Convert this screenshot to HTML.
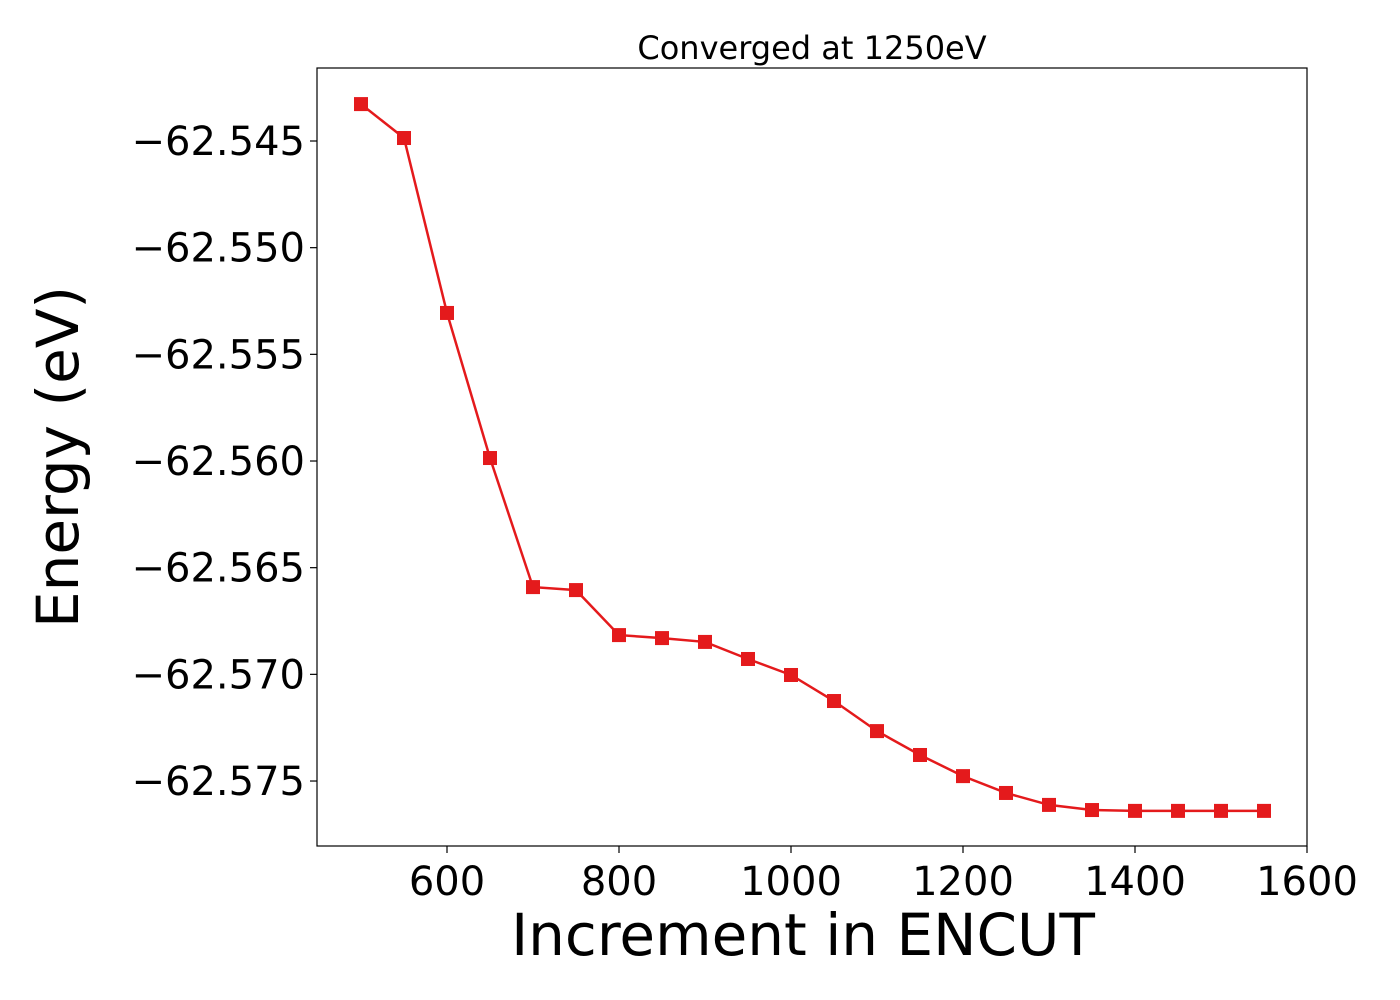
<!DOCTYPE html>
<html><head><meta charset="utf-8"><style>
html,body{margin:0;padding:0;background:#fff;}
svg{display:block;font-family:"DejaVu Sans","Liberation Sans",sans-serif;}
</style></head><body>
<svg id="chart" width="1400" height="1000" viewBox="0 0 1400 1000">
<rect x="0" y="0" width="1400" height="1000" fill="#fff"/>
<text x="812" y="59" font-size="32" text-anchor="middle" fill="#000">Converged at 1250eV</text>
<g id="xticks"></g>
<g id="yticks"></g>
<g id="series"></g>
<rect x="317" y="68" width="990" height="778" fill="none" stroke="#000" stroke-width="1.2"/>
<text x="803" y="955" font-size="58" text-anchor="middle" fill="#000">Increment in ENCUT</text>
<text transform="translate(78,457) rotate(-90)" font-size="58" text-anchor="middle" fill="#000">Energy (eV)</text>
</svg>
<script>
const encut = [500,550,600,650,700,750,800,850,900,950,1000,1050,1100,1150,1200,1250,1300,1350,1400,1450,1500,1550];
const energy = [-62.54327,-62.54486,-62.55306,-62.55986,-62.56591,-62.56605,-62.56816,-62.5683,-62.56848,-62.56928,-62.57003,-62.57125,-62.57266,-62.57378,-62.57477,-62.57556,-62.57612,-62.57636,-62.5764,-62.5764,-62.5764,-62.5764];
const xTickValues = [600,800,1000,1200,1400,1600];
const yTickValues = [-62.545,-62.550,-62.555,-62.560,-62.565,-62.570,-62.575];
const yTickLabels = ["\u221262.545","\u221262.550","\u221262.555","\u221262.560","\u221262.565","\u221262.570","\u221262.575"];

const NS = "http://www.w3.org/2000/svg";
function xs(v){ return 447 + (v-600)*(172/200); }
function ys(v){ return 141 + (-62.545 - v)/0.005*106.67; }

const xg = document.getElementById('xticks');
xTickValues.forEach(v=>{
  const l=document.createElementNS(NS,'line');
  l.setAttribute('x1',xs(v));l.setAttribute('x2',xs(v));l.setAttribute('y1',846);l.setAttribute('y2',853);
  l.setAttribute('stroke','#000');l.setAttribute('stroke-width','1.2');
  
  
  xg.appendChild(l);
  const t=document.createElementNS(NS,'text');
  t.setAttribute('x',xs(v));t.setAttribute('y',895);t.setAttribute('font-size','40');t.setAttribute('text-anchor','middle');
  t.textContent=v;
  
  
  xg.appendChild(t);
});
const yg = document.getElementById('yticks');
yTickValues.forEach((v,i)=>{
  const l=document.createElementNS(NS,'line');
  l.setAttribute('x1',310);l.setAttribute('x2',317);l.setAttribute('y1',ys(v));l.setAttribute('y2',ys(v));
  l.setAttribute('stroke','#000');l.setAttribute('stroke-width','1.2');
  
  
  yg.appendChild(l);
  const t=document.createElementNS(NS,'text');
  t.setAttribute('x',305);t.setAttribute('y',ys(v)+14);t.setAttribute('font-size','40');t.setAttribute('text-anchor','end');
  t.textContent=yTickLabels[i];
  
  
  yg.appendChild(t);
});
const sg = document.getElementById('series');
const pl=document.createElementNS(NS,'polyline');
pl.setAttribute('points',encut.map((v,i)=>xs(v)+','+ys(energy[i])).join(' '));
pl.setAttribute('fill','none');pl.setAttribute('stroke','#e41a1c');pl.setAttribute('stroke-width','2.5');


sg.appendChild(pl);
encut.forEach((v,i)=>{
  const r=document.createElementNS(NS,'rect');
  r.setAttribute('x',xs(v)-7);r.setAttribute('y',ys(energy[i])-7);r.setAttribute('width',14);r.setAttribute('height',14);
  r.setAttribute('fill','#e41a1c');
  
  
  sg.appendChild(r);
});
</script>
</body></html>
